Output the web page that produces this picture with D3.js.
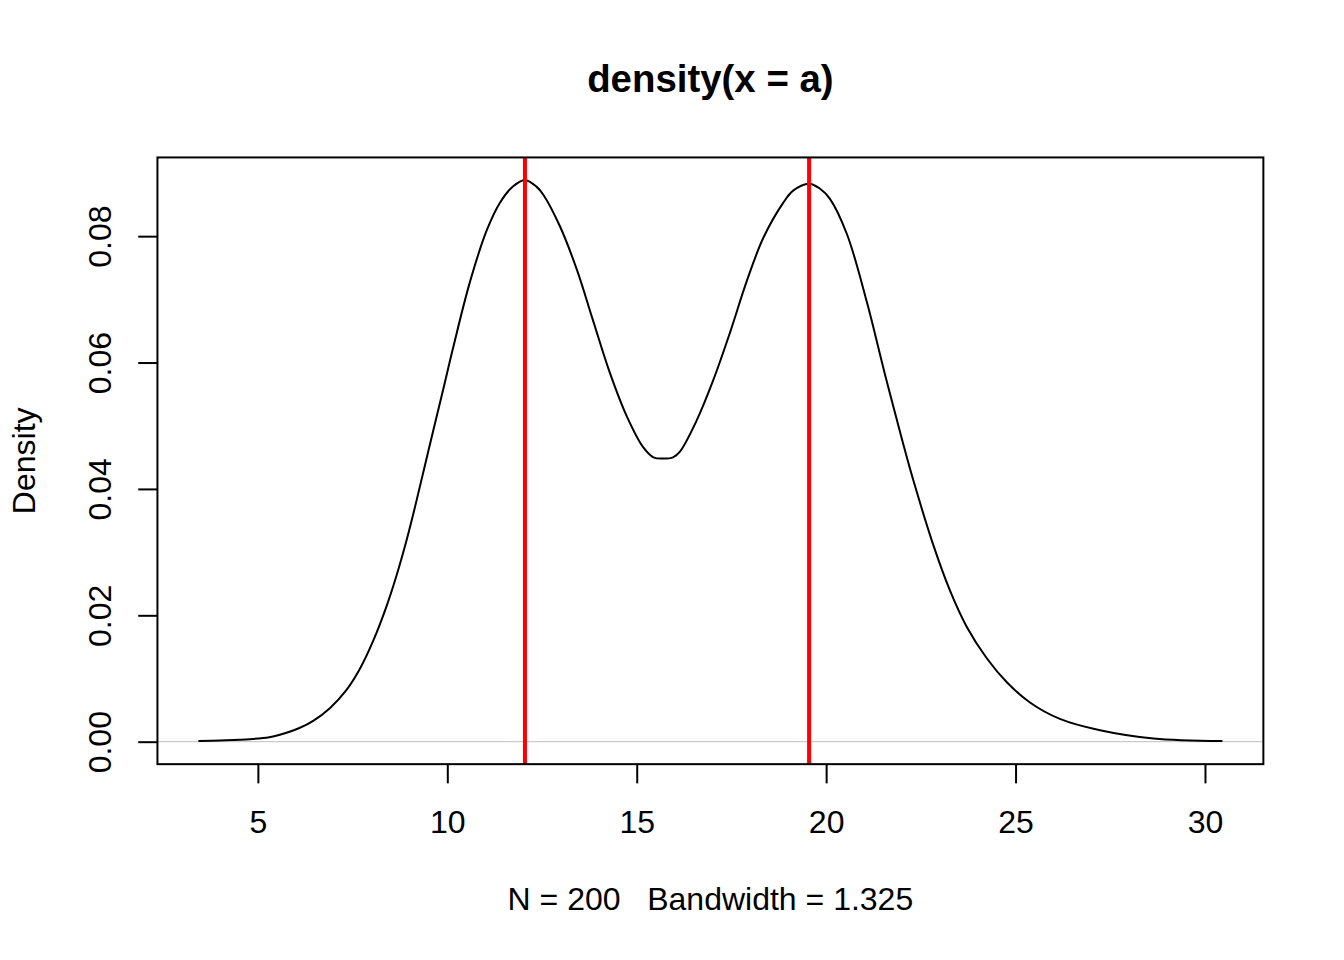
<!DOCTYPE html>
<html>
<head>
<meta charset="utf-8">
<script src="https://cdn.jsdelivr.net/npm/d3@7"></script>
<style>
  body { margin: 0; background: #fff; }
  text { font-family: "Liberation Sans", Arial, sans-serif; fill: #000; }
</style>
</head>
<body>
<div id="chart"></div>
<script>
/* density estimate */
var xs = [3.43, 4.0, 4.79, 5.3, 5.58, 6.11, 6.46, 6.90, 7.34, 7.69, 8.04, 8.40, 8.66, 8.93,
          9.15, 9.50, 9.89, 10.16, 10.60, 11.04, 11.39, 11.74, 12.05, 12.36, 12.53, 12.97,
          13.42, 13.85, 14.29, 14.73, 15.17, 15.44, 15.70, 15.96, 16.14, 16.58, 17.02, 17.46,
          17.90, 18.34, 18.87, 19.13, 19.55, 19.84, 20.10, 20.55, 21.07, 21.55, 22.04, 22.30,
          22.83, 23.27, 23.71, 24.24, 24.77, 25.38, 26.17, 27.23, 28.64, 30.46];
var dens = [0.0001, 0.0002, 0.0004, 0.0007, 0.0011, 0.0022, 0.0033, 0.0053, 0.0082, 0.0115,
            0.0159, 0.0215, 0.0263, 0.0320, 0.0372, 0.0460, 0.0557, 0.0625, 0.0728, 0.0809,
            0.0853, 0.0879, 0.0889, 0.0878, 0.0866, 0.0816, 0.0747, 0.0666, 0.0584, 0.0516,
            0.0466, 0.0450, 0.0448, 0.0450, 0.0459, 0.0508, 0.0572, 0.0647, 0.0728, 0.0797,
            0.0853, 0.0872, 0.0883, 0.0875, 0.0859, 0.0803, 0.0697, 0.0582, 0.0470, 0.0414,
            0.0311, 0.0239, 0.0182, 0.0132, 0.0094, 0.0062, 0.0036, 0.0018, 0.0005, 0.0001];
var modes = [12.05, 19.55];
var xTicks = [5, 10, 15, 20, 25, 30];
var yTicks = [0, 0.02, 0.04, 0.06, 0.08];
var title = "density(x = a)";
var xLabel = "N = 200   Bandwidth = 1.325";
var yLabel = "Density";

var data = xs.map(function(d, i) { return { x: d, y: dens[i] }; });

var W = 1344, H = 960;
var lineH = 38.4;   /* one margin line */
var margin = { top: 4.1 * lineH, right: 2.1 * lineH, bottom: 5.1 * lineH, left: 4.1 * lineH };
var width = W - margin.left - margin.right,
    height = H - margin.top - margin.bottom;
var fontSize = 32;

/* R-style 4% padding of the ranges */
var xmin = d3.min(xs), xmax = d3.max(xs);
var xpad = (xmax - xmin) * 0.04;
var ymax = d3.max(dens), ypad = ymax * 0.04;

var x = d3.scaleLinear().domain([xmin - xpad, xmax + xpad]).range([0, width]);
var y = d3.scaleLinear().domain([-ypad, ymax + ypad]).range([height, 0]);

var svg = d3.select("#chart")
            .append("svg")
            .attr("width", W)
            .attr("height", H);

var chart = svg.append("g")
               .attr("transform", "translate(" + margin.left + "," + margin.top + ")");

/* clip to plot region */
chart.append("clipPath").attr("id", "clip")
     .append("rect").attr("width", width).attr("height", height);

var plot = chart.append("g").attr("clip-path", "url(#clip)");

/* zero line */
plot.append("line")
    .attr("x1", 0).attr("x2", width)
    .attr("y1", y(0)).attr("y2", y(0))
    .attr("stroke", "#bebebe")
    .attr("stroke-width", 1);

/* density curve */
var line = d3.line()
             .x(function(d) { return x(d.x); })
             .y(function(d) { return y(d.y); })
             .curve(d3.curveCatmullRom.alpha(0.5));

plot.append("path")
    .datum(data)
    .attr("fill", "none")
    .attr("stroke", "#000")
    .attr("stroke-width", 2)
    .attr("stroke-linejoin", "round")
    .attr("d", line);

/* mode lines */
plot.selectAll(".mode").data(modes)
    .enter().append("line")
    .attr("class", "mode")
    .attr("x1", function(d) { return x(d); })
    .attr("x2", function(d) { return x(d); })
    .attr("y1", 0).attr("y2", height)
    .attr("stroke", "#ff0000")
    .attr("stroke-width", 4);

/* box */
chart.append("rect")
     .attr("width", width).attr("height", height)
     .attr("fill", "none")
     .attr("stroke", "#000")
     .attr("stroke-width", 2);

/* x axis */
var xAxis = d3.axisBottom(x).tickValues(xTicks).tickSize(19.2).tickPadding(0)
              .tickFormat(d3.format("d"));
var gx = chart.append("g")
              .attr("transform", "translate(0," + height + ")")
              .call(xAxis);
gx.select(".domain").remove();
gx.selectAll(".tick line").attr("stroke", "#000").attr("stroke-width", 2);
gx.selectAll(".tick text")
  .attr("font-size", fontSize)
  .attr("font-family", "Liberation Sans, Arial, sans-serif")
  .attr("dy", null)
  .attr("y", 1.8 * lineH);

/* y axis */
var yAxis = d3.axisLeft(y).tickValues(yTicks).tickSize(19.2).tickPadding(0)
              .tickFormat(d3.format(".2f"));
var gy = chart.append("g").call(yAxis);
gy.select(".domain").remove();
gy.selectAll(".tick line").attr("stroke", "#000").attr("stroke-width", 2);
gy.selectAll(".tick text")
  .attr("font-size", fontSize)
  .attr("font-family", "Liberation Sans, Arial, sans-serif")
  .attr("x", null).attr("dy", null)
  .attr("text-anchor", "middle")
  .attr("transform", "translate(" + (-1.2 * lineH) + ",0)rotate(-90)");

/* title */
svg.append("text")
   .attr("x", margin.left + width / 2)
   .attr("y", 92)
   .attr("text-anchor", "middle")
   .attr("font-size", 38.4)
   .attr("font-weight", "bold")
   .text(title);

/* x label */
svg.append("text")
   .attr("x", margin.left + width / 2)
   .attr("y", margin.top + height + 3.8 * lineH)
   .attr("text-anchor", "middle")
   .attr("font-size", fontSize)
   .attr("xml:space", "preserve")
   .style("white-space", "pre")
   .text(xLabel);

/* y label */
svg.append("text")
   .attr("transform", "translate(" + (margin.left - 3.2 * lineH) + "," + (margin.top + height / 2) + ")rotate(-90)")
   .attr("text-anchor", "middle")
   .attr("font-size", fontSize)
   .text(yLabel);
</script>
</body>
</html>
